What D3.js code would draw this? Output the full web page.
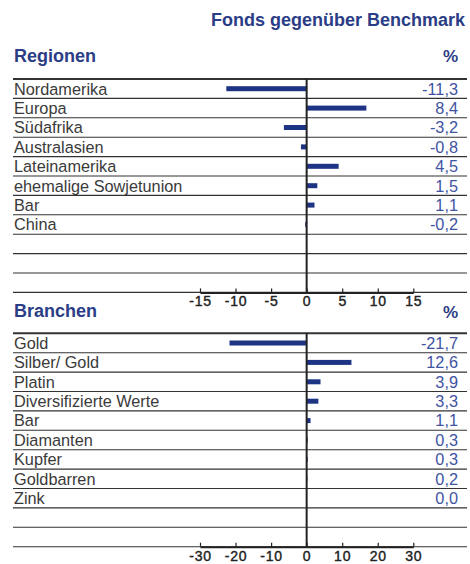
<!DOCTYPE html>
<html>
<head>
<meta charset="utf-8">
<script src="https://cdn.jsdelivr.net/npm/d3@7.9.0/dist/d3.min.js"></script>
<style>
  body { margin: 0; background: #fff; }
  svg { display: block; font-family: "Liberation Sans", Arial, sans-serif; }
</style>
</head>
<body>
<svg id="chart" width="470" height="564"></svg>
<script>
const regionen = ['Nordamerika', 'Europa', 'Südafrika', 'Australasien', 'Lateinamerika',
  'ehemalige Sowjetunion', 'Bar', 'China'];
const regionenWerte = [-11.3, 8.4, -3.2, -0.8, 4.5, 1.5, 1.1, -0.2];
const regionenTicks = [-15, -10, -5, 0, 5, 10, 15];

const branchen = ['Gold', 'Silber/ Gold', 'Platin', 'Diversifizierte Werte', 'Bar',
  'Diamanten', 'Kupfer', 'Goldbarren', 'Zink'];
const branchenWerte = [-21.7, 12.6, 3.9, 3.3, 1.1, 0.3, 0.3, 0.2, 0.0];
const branchenTicks = [-30, -20, -10, 0, 10, 20, 30];

const ROWS = 11;
const blue = '#2a3d86';
const barColor = '#1d3484';
const valueColor = '#3f54a2';
const lineColor = '#333';

const svg = d3.select('#chart');
const fmt = (v) => d3.format('.1f')(v).replace('.', ',').replace('−', '-');

svg.append('text')
  .attr('x', 465).attr('y', 26)
  .attr('text-anchor', 'end')
  .attr('font-size', 18).attr('font-weight', 'bold')
  .attr('fill', blue)
  .text('Fonds gegenüber Benchmark');

// one block: heading, rows, bars, values, axis
function drawSection({ title, titleY, pctY, top, labels, values, ticks }) {
  svg.append('text')
    .attr('x', 14).attr('y', titleY)
    .attr('font-size', 18).attr('font-weight', 'bold')
    .attr('fill', blue).text(title);
  svg.append('text')
    .attr('x', 458).attr('y', pctY)
    .attr('text-anchor', 'end')
    .attr('font-size', 17).attr('font-weight', 'bold')
    .attr('fill', blue).text('%');

  const y = d3.scaleBand().domain(d3.range(ROWS)).range([top, top + ROWS * 19.4]);
  const x = d3.scaleLinear().domain([ticks[0], ticks[ticks.length - 1]]).range([200, 413.3]);
  const bottom = y.range()[1];
  const g = svg.append('g');

  // row rules
  g.selectAll('line.rule')
    .data(d3.range(ROWS + 1))
    .join('line')
    .attr('class', 'rule')
    .attr('x1', 13).attr('x2', 467)
    .attr('y1', (i) => i === ROWS ? bottom : y(i))
    .attr('y2', (i) => i === ROWS ? bottom : y(i))
    .attr('stroke', lineColor)
    .attr('stroke-width', (i) => i === 0 ? 2 : 1.1);

  const rows = labels.map((label, i) => ({ label, value: values[i], i }));

  g.selectAll('text.label')
    .data(rows)
    .join('text')
    .attr('class', 'label')
    .attr('x', 14)
    .attr('y', (d) => y(d.i) + 15.5)
    .attr('font-size', 16.3)
    .attr('fill', '#3a3a3a')
    .text((d) => d.label);

  g.selectAll('text.value')
    .data(rows)
    .join('text')
    .attr('class', 'value')
    .attr('x', 458)
    .attr('y', (d) => y(d.i) + 15.5)
    .attr('text-anchor', 'end')
    .attr('font-size', 16.3)
    .attr('fill', valueColor)
    .text((d) => fmt(d.value));

  g.selectAll('rect.bar')
    .data(rows)
    .join('rect')
    .attr('class', 'bar')
    .attr('x', (d) => x(Math.min(0, d.value)))
    .attr('width', (d) => Math.abs(x(d.value) - x(0)))
    .attr('y', (d) => y(d.i) + y.bandwidth() / 2 - 2.5)
    .attr('height', 5)
    .attr('fill', barColor);

  // zero line
  g.append('line')
    .attr('x1', x(0)).attr('x2', x(0))
    .attr('y1', top).attr('y2', bottom)
    .attr('stroke', '#222').attr('stroke-width', 2);

  const axis = g.append('g')
    .attr('transform', `translate(0,${bottom})`)
    .call(d3.axisBottom(x).tickValues(ticks).tickSizeInner(-4).tickSizeOuter(0).tickPadding(4)
      .tickFormat((d) => String(d)));
  axis.select('.domain').attr('stroke', '#222').attr('stroke-width', 2);
  axis.selectAll('.tick line').attr('stroke', '#222').attr('stroke-width', 1.2);
  axis.selectAll('.tick text')
    .attr('font-family', '"Liberation Sans", Arial, sans-serif')
    .attr('font-size', 14).attr('font-weight', 'normal')
    .attr('letter-spacing', 0.8)
    .attr('fill', '#222').attr('stroke', '#222').attr('stroke-width', 0.4)
    .attr('dy', '0.72em');
}

drawSection({
  title: 'Regionen', titleY: 62, pctY: 62, top: 79,
  labels: regionen, values: regionenWerte, ticks: regionenTicks
});

drawSection({
  title: 'Branchen', titleY: 317, pctY: 318, top: 333.3,
  labels: branchen, values: branchenWerte, ticks: branchenTicks
});
</script>
</body>
</html>
